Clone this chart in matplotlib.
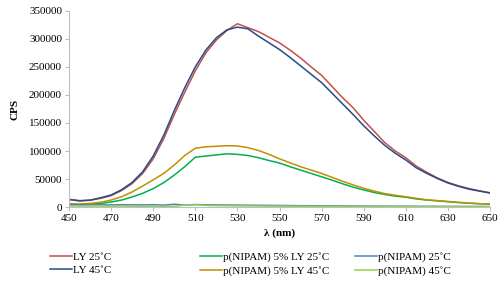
import matplotlib.pyplot as plt

plt.rcParams['font.family'] = ['Liberation Serif', 'DejaVu Serif']

# wavelength (nm)
wl = list(range(450, 655, 5))

ly_25 = [13700, 11500, 12000, 15500, 20500, 29500, 42000, 60000, 86000, 122000,
         165000, 205000, 243000, 275000, 298000, 315000, 327000, 320000, 313000, 303000,
         293000, 280000, 266000, 250000, 235000, 215000, 195000, 177000, 155000, 135000,
         115000, 100000, 88000, 73000, 62000, 52000, 44000, 38000, 33000, 29000, 25500]
ly_45 = [13500, 11000, 12500, 16500, 21500, 31000, 44000, 63000, 91000, 128000,
         172000, 213000, 250000, 280000, 302000, 316000, 321000, 318000, 305000, 293000,
         281000, 267000, 252000, 237000, 222000, 203000, 184000, 165000, 145000, 127000,
         110000, 96000, 84000, 70000, 60000, 51000, 43000, 37000, 32000, 28500, 25000]
pn5_25 = [4500, 4200, 4800, 6500, 9000, 12500, 18000, 24500, 33000, 43500,
          57000, 72000, 89000, 91000, 93000, 95000, 94000, 92000, 88000, 83000,
          78500, 72000, 66000, 60000, 54000, 48000, 41500, 35500, 30500, 26000,
          22500, 19500, 17500, 14500, 12500, 11000, 9500, 8000, 6800, 6000, 5200]
pn5_45 = [6000, 5500, 6500, 8500, 12500, 18500, 27000, 37500, 48500, 60000,
          75000, 92000, 105000, 107500, 108500, 109500, 109000, 106000, 101000, 94000,
          86000, 79000, 72000, 66000, 60000, 53000, 46000, 39500, 33500, 28500,
          24000, 21000, 18500, 15500, 13000, 11500, 10000, 8500, 7000, 6000, 5500]
pn_25 = [4500, 4000, 4200, 4000, 3800, 4200, 4000, 3800, 4200, 3500,
         5000, 3500, 4500, 4000, 3800, 3600, 3500, 3300, 3200, 3000,
         2800, 2700, 2500, 2400, 2300, 2200, 2000, 1900, 1800, 1700,
         1600, 1500, 1500, 1400, 1300, 1300, 1200, 1200, 1100, 1100, 1000]
pn_45 = [1800, 1800, 1700, 1700, 1600, 1600, 1500, 1500, 1500, 1400,
         1200, 3500, 4000, 3000, 2500, 2300, 2100, 2000, 1900, 1800,
         1700, 1600, 1500, 1400, 1300, 1200, 1100, 1000, 1000, 900,
         900, 800, 800, 700, 700, 700, 600, 600, 600, 500, 500]

fig = plt.figure(figsize=(5, 2.86), dpi=100)
ax = fig.add_axes([0.138, 0.276, 0.842, 0.686])

l1, = ax.plot(wl, ly_25, color="#C0504D", lw=1.1, label="LY 25˚C")
l2, = ax.plot(wl, ly_45, color="#264B87", lw=1.1, label="LY 45˚C")
l3, = ax.plot(wl, pn5_25, color="#00B050", lw=1.1, label="p(NIPAM) 5% LY 25˚C")
l4, = ax.plot(wl, pn5_45, color="#BF9000", lw=1.1, label="p(NIPAM) 5% LY 45˚C")
l5, = ax.plot(wl, pn_25, color="#4F81BD", lw=1.1, label="p(NIPAM) 25˚C")
l6, = ax.plot(wl, pn_45, color="#92D050", lw=1.1, label="p(NIPAM) 45˚C")

ax.set_xlim(450, 650)
ax.set_ylim(0, 350000)
ax.set_xticks(range(450, 651, 20))
ax.set_yticks(range(0, 350001, 50000))
ax.tick_params(labelsize=8, length=3, color="#BFBFBF", pad=2)
for s in ["top", "right"]:
    ax.spines[s].set_visible(False)
for s in ["left", "bottom"]:
    ax.spines[s].set_color("#BFBFBF")

ax.set_xlabel("λ (nm)", fontsize=8, fontweight="bold", labelpad=4)
ax.set_ylabel("CPS", fontsize=8, fontweight="bold", labelpad=7)

# legend in three columns, placed separately
cols = [((l1, l2), 0.088), ((l3, l4), 0.388), ((l5, l6), 0.698)]
for handles, x0 in cols:
    fig.legend(handles=list(handles), loc="upper left", bbox_to_anchor=(x0, 0.137),
               frameon=False, fontsize=8, borderpad=0, labelspacing=0.3,
               handlelength=2.0, handletextpad=0.15)

plt.savefig("out.png", dpi=100)
